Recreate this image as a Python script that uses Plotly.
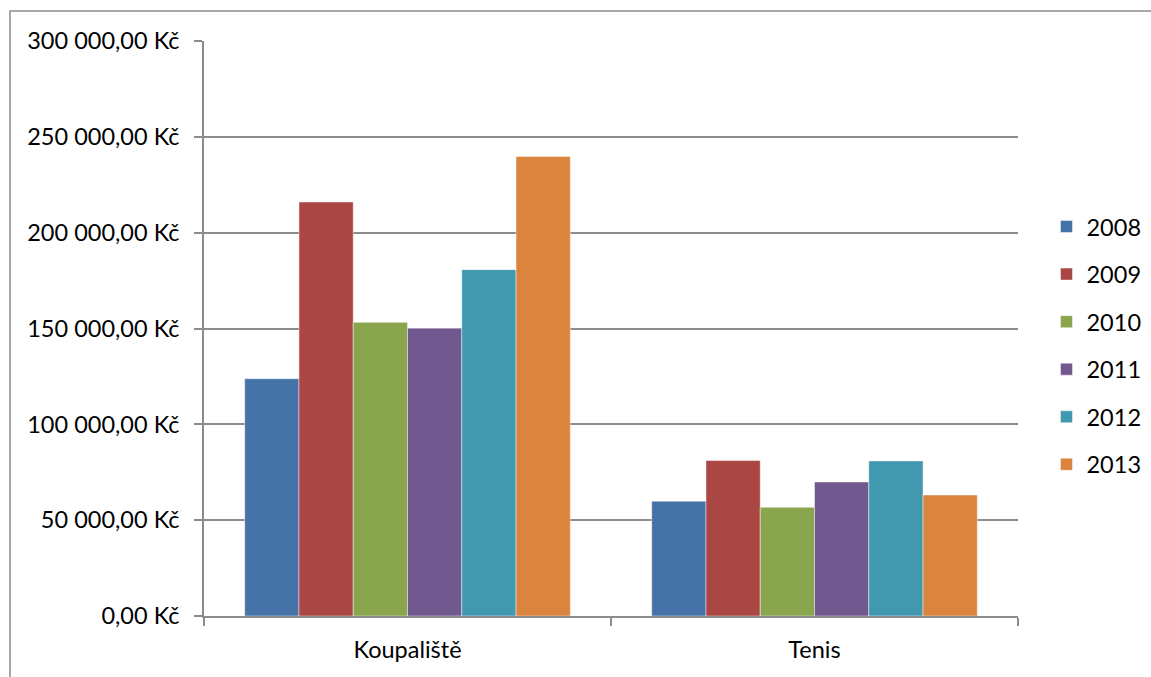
import plotly.graph_objects as go

categories = ["Koupaliště", "Tenis"]
years = ["2008", "2009", "2010", "2011", "2012", "2013"]
values = {
    "2008": [123800, 59900],
    "2009": [216000, 81100],
    "2010": [153200, 56700],
    "2011": [150100, 69900],
    "2012": [180700, 80900],
    "2013": [239800, 63100],
}
colors = ["#4572A7", "#AA4643", "#89A54E", "#71588F", "#4198AF", "#DB843D"]
y_ticks = [0, 50000, 100000, 150000, 200000, 250000, 300000]
y_tick_text = ["0,00 Kč", "50 000,00 Kč", "100 000,00 Kč", "150 000,00 Kč",
               "200 000,00 Kč", "250 000,00 Kč", "300 000,00 Kč"]

W, H = 1151, 677
L, R, T, B = 204, 133, 41, 61
FONT = "Lato"
FS = 23.5
GREY = "#8c8c8c"

fig = go.Figure()
for yr, col in zip(years, colors):
    fig.add_trace(go.Bar(
        x=categories, y=values[yr], name=yr, legendgroup=yr,
        marker=dict(color=col, line=dict(color="rgba(255,255,255,0.45)", width=1)),
    ))

pw, ph = W - L - R, H - T - B
# outer chart border
fig.add_shape(type="rect", xref="paper", yref="paper",
              x0=(10 - L) / pw, x1=(W + 20 - L) / pw,
              y0=-(H + 20 - T - ph) / ph, y1=1 + (T - 11) / ph,
              line=dict(color=GREY, width=1.5), layer="below")

fig.update_layout(
    width=W, height=H,
    margin=dict(l=L, r=R, t=T, b=B, pad=0, autoexpand=False),
    paper_bgcolor="white", plot_bgcolor="white",
    font=dict(family=FONT, size=FS, color="black"),
    barmode="group", bargap=0.2, bargroupgap=0,
    legend=dict(x=1.035, xanchor="left", y=0.47, yanchor="middle",
                tracegroupgap=14, font=dict(size=FS), itemwidth=30,
                bgcolor="rgba(0,0,0,0)"),
    xaxis=dict(showline=True, linecolor=GREY, linewidth=1.5,
               ticks="outside", tickson="boundaries", ticklen=8,
               tickcolor=GREY, tickwidth=1.5, showgrid=False,
               ticklabelstandoff=12, tickfont=dict(size=FS)),
    yaxis=dict(range=[0, 300000], tickvals=y_ticks, ticktext=y_tick_text,
               showline=True, linecolor=GREY, linewidth=1.5,
               ticks="outside", ticklen=8, tickcolor=GREY, tickwidth=1.5,
               showgrid=True, gridcolor=GREY, gridwidth=1.5,
               zeroline=False, ticklabelstandoff=10, tickfont=dict(size=FS)),
)

fig.write_html("out.html")
